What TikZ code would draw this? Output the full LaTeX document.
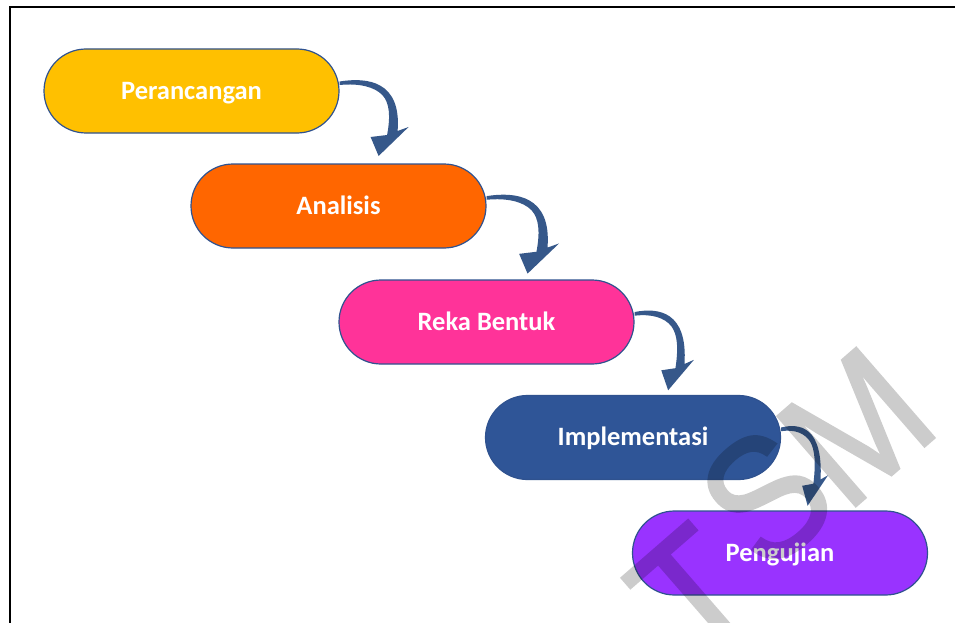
\documentclass[tikz,border=0pt]{standalone}
\usepackage{fontspec}
\setmainfont{Carlito}
\newfontfamily\wmfont[FakeBold=1.5]{Liberation Sans}
\begin{document}
\begin{tikzpicture}[x=1pt,y=-1pt,
  stagebox/.style={draw=boxline, line width=1.2pt, rounded corners=42pt,
    minimum width=295pt, minimum height=84pt, inner sep=0pt,
    text height=16.8pt, text depth=0pt,
    text=white, font=\bfseries\fontsize{26.5}{30}\selectfont},
  wmark/.style={rotate=41, xscale=0.9, inner sep=0pt, text=black,
    font=\wmfont\fontsize{173}{173}\selectfont},
  curvarrow/.pic={
    \fill[arrowcol] (0,-9.5) .. controls (28,-14) and (62,-10) .. (58,40)
      -- (69,36) -- (39,65) -- (31,46) -- (47.5,44)
      .. controls (51,25) and (50,12) .. (42.7,4)
      .. controls (35,-4) and (20,-8) .. (0,-6) -- cycle;
  }]
\definecolor{boxline}{HTML}{2F528F}
\definecolor{arrowcol}{RGB}{54,88,138}
\definecolor{cyellow}{HTML}{FFC000}
\definecolor{corange}{HTML}{FF6600}
\definecolor{cpink}{HTML}{FF3399}
\definecolor{cblue}{HTML}{2F5597}
\definecolor{cpurple}{HTML}{9933FF}
\useasboundingbox (0,0) rectangle (955,623);
\fill[white] (0,0) rectangle (955,623);
\draw[line width=1.8pt] (10.2,623) -- (10.2,6.7) -- (955,6.7);

\node[stagebox, fill=cyellow] (b1) at (191.5,91) {Perancangan};
\node[stagebox, fill=corange] (b2) at (338.5,206) {Analisis};
\node[stagebox, fill=cpink]   (b3) at (486.5,322) {Reka Bentuk};
\node[stagebox, fill=cblue]   (b4) at (633,437.5) {Implementasi};
\node[stagebox, fill=cpurple] (b5) at (780,553) {Pengujian};

\path (b1.east) pic {curvarrow};
\path (b2.east) pic[xscale=1.05, yscale=1.04] {curvarrow};
\path (b3.east) pic[xscale=0.86, yscale=1.05] {curvarrow};
\path (b4.east) pic[xscale=0.68, yscale=1.05] {curvarrow};

\begin{scope}[transparency group, opacity=0.2]
\node[wmark] (wmT) at (694,594) {T};
\node[wmark] (wmS) at (766,497) {S};
\node[wmark] (wmM) at (856,427) {M};
\end{scope}
\end{tikzpicture}
\end{document}
